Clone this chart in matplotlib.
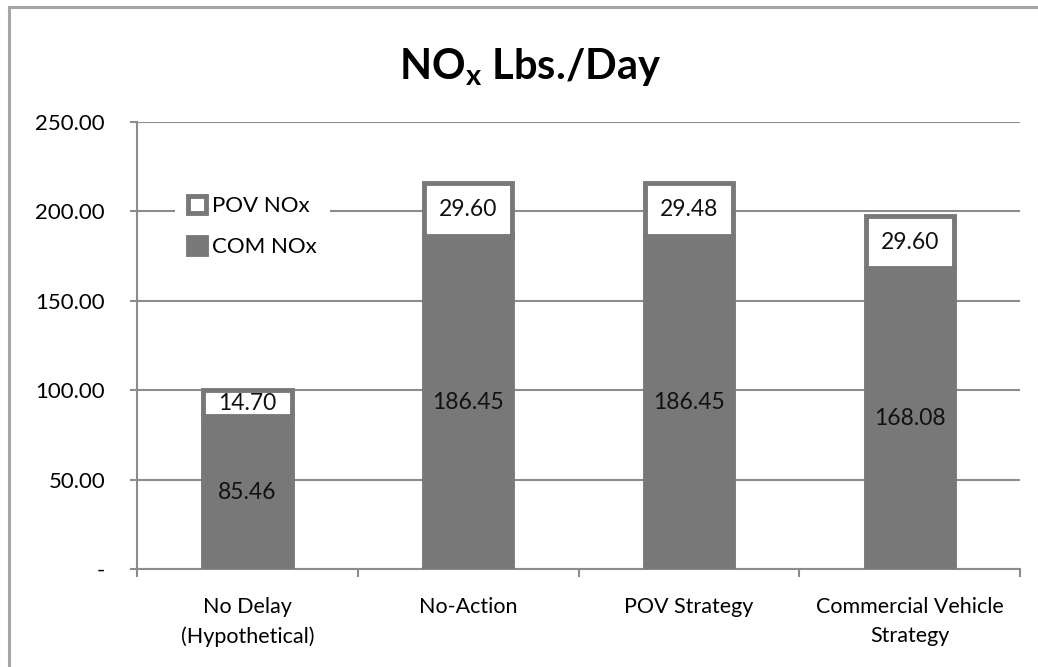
import matplotlib.pyplot as plt
from matplotlib.lines import Line2D
import numpy as np

categories = ['No Delay\n(Hypothetical)', 'No-Action', 'POV Strategy', 'Commercial Vehicle\nStrategy']
com_nox = [85.46, 186.45, 186.45, 168.08]
pov_nox = [14.70, 29.60, 29.48, 29.60]
y_ticks = [0, 50, 100, 150, 200, 250]
y_tick_labels = ['-', '50.00', '100.00', '150.00', '200.00', '250.00']

plt.rcParams['font.family'] = ['Lato', 'DejaVu Sans']
plt.rcParams['mathtext.fontset'] = 'custom'
plt.rcParams['mathtext.rm'] = 'Lato'
plt.rcParams['mathtext.bf'] = 'Lato:bold'

gray = '#787878'
grid_gray = '#8c8c8c'

fig = plt.figure(figsize=(10.38, 6.67), dpi=100)
ax = fig.add_axes([0.132, 0.1469, 0.8507, 0.6702])

x = np.arange(len(categories))
width = 0.40
com = ax.bar(x, com_nox, width, color=gray, edgecolor=gray, linewidth=3.5, label='COM NOx', zorder=3)
pov = ax.bar(x, pov_nox, width, bottom=com_nox, color='white', edgecolor=gray,
             linewidth=3.5, label='POV NOx', zorder=3)
ax.bar_label(com, fmt='%.2f', label_type='center', fontsize=16.5, color='#111111')
ax.bar_label(pov, fmt='%.2f', label_type='center', fontsize=16.5, color='#111111')

ax.set_xlim(-0.5, 3.5)
ax.set_ylim(0, 250)
ax.set_yticks(y_ticks)
ax.set_yticklabels(y_tick_labels)
ax.set_xticks(x)
ax.set_xticklabels(categories, linespacing=1.55)
ax.set_xticks(np.arange(-0.5, 4.0, 1.0), minor=True)
ax.tick_params(axis='x', which='major', length=0, pad=20, labelsize=15.5)
ax.tick_params(axis='x', which='minor', length=6, width=1.5, color=grid_gray, direction='out')
ax.tick_params(axis='y', length=5, width=1.5, color=grid_gray, pad=18, labelsize=16)

ax.yaxis.grid(True, color=grid_gray, linewidth=1.5, zorder=0)
ax.set_axisbelow(True)
for s in ['top', 'right']:
    ax.spines[s].set_visible(False)
for s in ['left', 'bottom']:
    ax.spines[s].set_color(grid_gray)
    ax.spines[s].set_linewidth(1.5)

handles, labels = ax.get_legend_handles_labels()
leg = ax.legend(handles[::-1], labels[::-1], loc='upper left', bbox_to_anchor=(0.03, 0.89),
                fontsize=16, frameon=True, facecolor='white', edgecolor='none', framealpha=1,
                handlelength=0.8, handleheight=0.8, handletextpad=0.3, labelspacing=0.95,
                borderpad=0.6, fancybox=False)
leg.set_zorder(5)

fig.text(0.511, 0.90, r'NO$_{\mathbf{x}}$ Lbs./Day', ha='center', va='center',
         fontsize=30, fontweight='bold')

# outer frame (left and top edges visible)
fig.add_artist(Line2D([9 / 1038, 9 / 1038], [0, 1 - 7 / 667], color='#a6a6a6', linewidth=2.2))
fig.add_artist(Line2D([9 / 1038, 1], [1 - 7 / 667, 1 - 7 / 667], color='#a6a6a6', linewidth=2.2))

fig.savefig('out.png', dpi=100)
